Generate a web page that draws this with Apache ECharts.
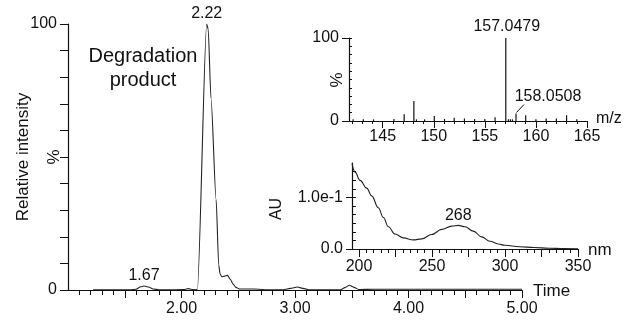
<!DOCTYPE html>
<html><head><meta charset="utf-8">
<script src="https://cdn.jsdelivr.net/npm/echarts@6/dist/echarts.min.js"></script>
<style>html,body{margin:0;padding:0;background:#fff}#c{width:625px;height:324px}</style>
</head><body><div id="c"></div>
<script>
// ---- Chromatogram (main) ----
const chromTime = [1.22, 1.40, 1.55, 1.60, 1.64, 1.67, 1.71, 1.75, 1.80, 1.95, 2.03, 2.06, 2.09, 2.12, 2.14, 2.222, 2.235, 2.26, 2.305, 2.328, 2.34, 2.355, 2.38, 2.405, 2.43, 2.455, 2.48, 2.51, 2.60, 2.68, 2.75, 2.90, 2.96, 3.02, 3.08, 3.13, 3.40, 3.44, 3.48, 3.52, 3.56, 3.70, 4.00, 4.30, 4.60, 5.00];
const chromIntensity = [0.1, 0.1, 0.1, 0.3, 1.2, 1.5, 1.1, 0.4, 0.1, 0.1, 0.2, 0.5, 0.2, 0.1, 0.3, 100, 98, 72, 34, 9.4, 6, 5.0, 5.2, 5.5, 4.0, 2.2, 1.0, 0.4, 0.4, 0.3, 0.1, 0.1, 0.6, 1.1, 0.5, 0.1, 0.1, 0.9, 1.8, 1.0, 0.2, 0.3, 0.3, 0.3, 0.3, 0.3];
const chromPeakTimes = [1.67, 2.222];
const chromPeakValues = [1.5, 100];
const chromPeakLabels = ['1.67', '2.22'];
const chromXTickLabels = [2, 3, 4, 5];
const chromYTickLabels = [0, 100];

// ---- Mass spectrum (inset) ----
const msMz = [142.1, 143.1, 144.1, 146.1, 147.1, 148.05, 148.3, 149.1, 150.05, 151.05, 152.0, 153.0, 154.0, 155.0, 156.0, 157.05, 157.3, 157.5, 157.7, 158.05, 159.0, 160.0, 161.0, 162.0, 163.0, 164.0];
const msIntensity = [2, 2, 2, 2.5, 8, 24, 2, 2, 6, 2.5, 4, 3, 2.5, 2.5, 4.5, 100, 2, 2, 2, 9, 7, 2, 3, 3, 7, 2];
const msLabelMz = [157.05, 158.05];
const msLabelIntensity = [100, 9];
const msLabelText = ['157.0479', '158.0508'];
const msXTickLabels = [145, 150, 155, 160, 165];
const msYTickLabels = [0, 100];

// ---- UV spectrum (inset) ----
const uvWavelength = [195.2, 197.3, 200.7, 205.3, 208.7, 213.2, 216.7, 220.1, 224.7, 230.4, 237.2, 243, 249.8, 256.6, 263.5, 268, 272.6, 278.3, 284, 289.7, 295.4, 300, 310, 320, 330, 340, 350];
const uvAbsorbance = [0.166, 0.149, 0.133, 0.118, 0.103, 0.080, 0.061, 0.043, 0.029, 0.0215, 0.0176, 0.0196, 0.028, 0.038, 0.0444, 0.0457, 0.043, 0.0346, 0.0235, 0.015, 0.0098, 0.0072, 0.0045, 0.0028, 0.0015, 0.0008, 0.0005];
const uvPeakWavelength = [268];
const uvPeakAbs = [0.0457];
const uvPeakLabel = ['268'];
const uvXTickLabels = [200, 250, 300, 350];
const uvYTickLabels = [0, 0.1];
const uvYTickText = ['0.0', '1.0e-1'];

function range(a, b, step) { const out = []; for (let v = a; v <= b + 1e-9; v += step) out.push(+v.toFixed(6)); return out; }

const FONT = '"Liberation Sans", Arial, sans-serif';
const INK = '#111';
const axisLine = { show: true, onZero: false, lineStyle: { color: INK, width: 1.2 } };
const tickStyle = { color: INK, width: 1 };
const lbl = (extra) => Object.assign({ color: INK, fontFamily: FONT, fontSize: 16 }, extra);

const chart = echarts.init(document.getElementById('c'), null, { renderer: 'canvas' });

const option = {
  animation: false,
  backgroundColor: '#fff',
  grid: [
    { left: 68, top: 24, width: 454, height: 266, containLabel: false, outerBoundsMode: 'none' },
    { left: 349, top: 38, width: 238, height: 83, containLabel: false, outerBoundsMode: 'none' },
    { left: 352, top: 163, width: 226, height: 86, containLabel: false, outerBoundsMode: 'none' }
  ],
  xAxis: [
    { gridIndex: 0, type: 'value', min: 1, max: 5, position: 'bottom', axisLine: axisLine, splitLine: { show: false },
      axisTick: { show: true, customValues: range(1.1, 5, 0.1), length: 5, lineStyle: tickStyle }, axisLabel: { show: false } },
    { gridIndex: 0, type: 'value', min: 1, max: 5, position: 'bottom', axisLine: { show: false }, splitLine: { show: false },
      axisTick: { show: true, customValues: range(1.5, 5, 0.5), length: 8, lineStyle: tickStyle },
      axisLabel: lbl({ customValues: chromXTickLabels, formatter: v => v.toFixed(2), margin: 11 }) },
    { gridIndex: 1, type: 'value', min: 141.7, max: 165, position: 'bottom', axisLine: axisLine, splitLine: { show: false },
      axisTick: { show: true, customValues: range(142, 165, 1), length: 3, lineStyle: tickStyle }, axisLabel: { show: false } },
    { gridIndex: 1, type: 'value', min: 141.7, max: 165, position: 'bottom', axisLine: { show: false }, splitLine: { show: false },
      axisTick: { show: true, customValues: msXTickLabels, length: 7, lineStyle: tickStyle },
      axisLabel: lbl({ customValues: msXTickLabels, margin: 8 }) },
    { gridIndex: 2, type: 'value', min: 195.2, max: 350, position: 'bottom', axisLine: axisLine, splitLine: { show: false },
      axisTick: { show: true, customValues: range(200, 350, 5), length: 4, lineStyle: tickStyle }, axisLabel: { show: false } },
    { gridIndex: 2, type: 'value', min: 195.2, max: 350, position: 'bottom', axisLine: { show: false }, splitLine: { show: false },
      axisTick: { show: true, customValues: range(200, 350, 25), length: 8, lineStyle: tickStyle },
      axisLabel: lbl({ customValues: uvXTickLabels, margin: 10 }) }
  ],
  yAxis: [
    { gridIndex: 0, type: 'value', min: 0, max: 100, position: 'left', axisLine: axisLine, splitLine: { show: false },
      axisTick: { show: true, customValues: range(0, 100, 10), length: 8, lineStyle: tickStyle },
      axisLabel: lbl({ customValues: chromYTickLabels, margin: 11 }) },
    { gridIndex: 1, type: 'value', min: 0, max: 100, position: 'left', axisLine: axisLine, splitLine: { show: false },
      axisTick: { show: true, inside: true, customValues: range(0, 100, 10), length: 3, lineStyle: tickStyle }, axisLabel: { show: false } },
    { gridIndex: 1, type: 'value', min: 0, max: 100, position: 'left', axisLine: { show: false }, splitLine: { show: false },
      axisTick: { show: true, customValues: msYTickLabels, length: 7, lineStyle: tickStyle },
      axisLabel: lbl({ customValues: msYTickLabels, margin: 10 }) },
    { gridIndex: 2, type: 'value', min: 0, max: 1 / 6, position: 'left', axisLine: axisLine, splitLine: { show: false },
      axisTick: { show: true, inside: true, customValues: range(0, 1 / 6, 1 / 60), length: 4, lineStyle: tickStyle }, axisLabel: { show: false } },
    { gridIndex: 2, type: 'value', min: 0, max: 1 / 6, position: 'left', axisLine: { show: false }, splitLine: { show: false },
      axisTick: { show: true, customValues: uvYTickLabels, length: 6, lineStyle: tickStyle },
      axisLabel: lbl({ customValues: uvYTickLabels, formatter: v => uvYTickText[uvYTickLabels.indexOf(+v.toFixed(6))] || '', margin: 9 }) }
  ],
  series: [
    { type: 'line', xAxisIndex: 0, yAxisIndex: 0, data: chromTime.map((t, i) => [t, chromIntensity[i]]),
      showSymbol: false, smooth: 0.25, smoothMonotone: 'x', lineStyle: { color: '#222', width: 1.1 }, silent: true },
    { type: 'scatter', xAxisIndex: 0, yAxisIndex: 0, symbolSize: 0, itemStyle: { opacity: 1 },
      data: chromPeakTimes.map((t, i) => [t, chromPeakValues[i], chromPeakLabels[i]]),
      label: lbl({ show: true, position: 'top', distance: 2, opacity: 1, formatter: p => p.data[2] }) },
    { type: 'custom', xAxisIndex: 2, yAxisIndex: 1, data: msMz.map((m, i) => [m, msIntensity[i]]),
      renderItem: (params, api) => {
        const p0 = api.coord([api.value(0), 0]);
        const p1 = api.coord([api.value(0), api.value(1)]);
        return { type: 'line', shape: { x1: p0[0], y1: p0[1], x2: p1[0], y2: p1[1] }, style: { stroke: '#111', lineWidth: 1.2 } };
      } },
    { type: 'custom', xAxisIndex: 2, yAxisIndex: 1, data: msLabelMz.map((m, i) => [m, msLabelIntensity[i], i]),
      renderItem: (params, api) => {
        const p = api.coord([api.value(0), api.value(1)]);
        const idx = api.value(2);
        const font = '16px ' + FONT;
        if (idx === 0) {
          return { type: 'text', x: p[0] + 1, y: p[1] - 3, style: { text: msLabelText[idx], font: font, fill: INK, align: 'center', verticalAlign: 'bottom' } };
        }
        return { type: 'group', children: [
          { type: 'line', shape: { x1: p[0] + 0.5, y1: p[1] - 1, x2: p[0] + 8, y2: p[1] - 9 }, style: { stroke: '#111', lineWidth: 1 } },
          { type: 'text', x: p[0] + 32, y: p[1] - 17, style: { text: msLabelText[idx], font: font, fill: INK, align: 'center', verticalAlign: 'middle' } }
        ] };
      } },
    { type: 'line', xAxisIndex: 4, yAxisIndex: 3, data: uvWavelength.map((w, i) => [w, uvAbsorbance[i]]),
      showSymbol: false, smooth: 0.4, smoothMonotone: 'x', lineStyle: { color: '#222', width: 1.1 }, silent: true },
    { type: 'scatter', xAxisIndex: 4, yAxisIndex: 3, symbolSize: 0, itemStyle: { opacity: 1 },
      data: uvPeakWavelength.map((w, i) => [w, uvPeakAbs[i], uvPeakLabel[i]]),
      label: lbl({ show: true, position: 'top', distance: 2, opacity: 1, formatter: p => p.data[2] }) }
  ],
  graphic: [
    { type: 'text', x: 143, y: 56, style: { text: 'Degradation', font: '20px ' + FONT, fill: INK, align: 'center', verticalAlign: 'middle' } },
    { type: 'text', x: 143, y: 80, style: { text: 'product', font: '20px ' + FONT, fill: INK, align: 'center', verticalAlign: 'middle' } },
    { type: 'text', x: 23, y: 157, rotation: Math.PI / 2, style: { text: 'Relative intensity', font: '17px ' + FONT, fill: INK, align: 'center', verticalAlign: 'middle' } },
    { type: 'text', x: 54, y: 157, rotation: Math.PI / 2, style: { text: '%', font: '17px ' + FONT, fill: INK, align: 'center', verticalAlign: 'middle' } },
    { type: 'text', x: 337, y: 80, rotation: Math.PI / 2, style: { text: '%', font: '17px ' + FONT, fill: INK, align: 'center', verticalAlign: 'middle' } },
    { type: 'text', x: 277, y: 209, rotation: Math.PI / 2, style: { text: 'AU', font: '16px ' + FONT, fill: INK, align: 'center', verticalAlign: 'middle' } },
    { type: 'text', x: 533, y: 291, style: { text: 'Time', font: '17px ' + FONT, fill: INK, align: 'left', verticalAlign: 'middle' } },
    { type: 'text', x: 596, y: 119, style: { text: 'm/z', font: '16px ' + FONT, fill: INK, align: 'left', verticalAlign: 'middle' } },
    { type: 'text', x: 588, y: 250, style: { text: 'nm', font: '17px ' + FONT, fill: INK, align: 'left', verticalAlign: 'middle' } }
  ]
};
chart.setOption(option);
</script>
</body></html>
